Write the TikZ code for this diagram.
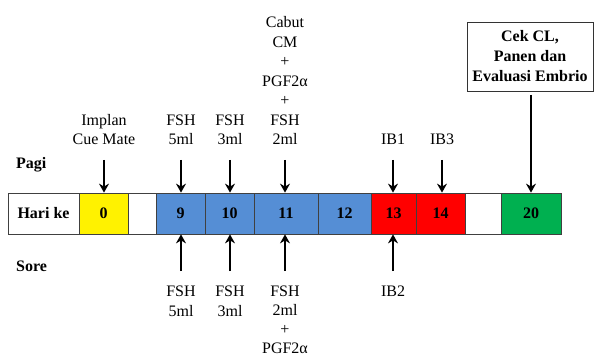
\documentclass[tikz,border=0pt]{standalone}
\usepackage{fontspec}
\setmainfont{Liberation Serif}
\usetikzlibrary{arrows.meta}
\definecolor{cellblue}{RGB}{85,142,213}
\definecolor{cellgreen}{RGB}{0,176,80}
\begin{document}
\begin{tikzpicture}[x=1pt,y=-1pt,
  every node/.style={font=\fontsize{16}{19.5}\selectfont},
  cell/.style={draw=black!75,line width=0.75pt,minimum height=41pt,inner sep=0pt,
    font=\fontsize{16}{19.5}\selectfont\bfseries},
  rowlabel/.style={anchor=west,inner sep=0pt,font=\fontsize{16}{19.5}\selectfont\bfseries},
  note/.style={align=center,inner sep=0pt},
  topnote/.style={note,anchor=south,text depth=0pt},
  botnote/.style={note,anchor=north},
  arr/.style={line width=2pt,-{Stealth[length=9pt,width=10pt,inset=3pt]}}]
\useasboundingbox (0,0) rectangle (594,358);

% timeline cells
\node[cell,minimum width=71pt] (hari) at (43.5,213.5) {Hari ke};
\node[cell,minimum width=49pt,fill=yellow] (d0) at (103.5,213.5) {0};
\node[cell,minimum width=28pt] (gap1) at (142,213.5) {};
\node[cell,minimum width=49pt,fill=cellblue] (d9) at (180.5,213.5) {9};
\node[cell,minimum width=49pt,fill=cellblue] (d10) at (229.5,213.5) {10};
\node[cell,minimum width=64pt,fill=cellblue] (d11) at (286,213.5) {11};
\node[cell,minimum width=53pt,fill=cellblue] (d12) at (344.5,213.5) {12};
\node[cell,minimum width=45pt,fill=red] (d13) at (393.5,213.5) {13};
\node[cell,minimum width=49pt,fill=red] (d14) at (440.5,213.5) {14};
\node[cell,minimum width=36pt] (gap2) at (483,213.5) {};
\node[cell,minimum width=60pt,fill=cellgreen] (d20) at (531,213.5) {20};

% row labels
\node[rowlabel] (pagi) at (16,165) {Pagi};
\node[rowlabel] (sore) at (16,266) {Sore};

% morning treatments
\node[topnote] (t0) at (104,145) {Implan\\Cue Mate};
\node[topnote] (t9) at (181,145) {FSH\\5ml};
\node[topnote] (t10) at (230,145) {FSH\\3ml};
\node[topnote] (t11) at (285,145) {Cabut\\CM\\+\\PGF2α\\+\\FSH\\2ml};
\node[topnote] (t13) at (393,145) {IB1};
\node[topnote] (t14) at (442,145) {IB3};
\node[draw=black!80,line width=0.75pt,minimum width=126pt,minimum height=69pt,align=center,
  font=\fontsize{16}{20}\selectfont\bfseries] (t20) at (530,56.5) {Cek CL,\\Panen dan\\Evaluasi Embrio};

% evening treatments
\node[botnote] (b9) at (181,286) {FSH\\5ml};
\node[botnote] (b10) at (230,286) {FSH\\3ml};
\node[botnote,font=\fontsize{16}{19}\selectfont] (b11) at (285,286) {FSH\\2ml\\+\\PGF2α};
\node[botnote] (b13) at (393,286) {IB2};

% arrows into the timeline
\coordinate (a0) at (104,160);
\coordinate (a9) at (181,160);
\coordinate (a10) at (230,160);
\coordinate (a11) at (285,160);
\coordinate (a13) at (393,160);
\coordinate (a14) at (442,160);
\coordinate (a20) at (531,95);
\draw[arr] (a0) -- (a0 |- d0.north);
\draw[arr] (a9) -- (a9 |- d9.north);
\draw[arr] (a10) -- (a10 |- d10.north);
\draw[arr] (a11) -- (a11 |- d11.north);
\draw[arr] (a13) -- (a13 |- d13.north);
\draw[arr] (a14) -- (a14 |- d14.north);
\draw[arr] (a20) -- (a20 |- d20.north);

\coordinate (u9) at (181,271);
\coordinate (u10) at (230,271);
\coordinate (u11) at (285,271);
\coordinate (u13) at (393,271);
\draw[arr] (u9) -- (u9 |- d9.south);
\draw[arr] (u10) -- (u10 |- d10.south);
\draw[arr] (u11) -- (u11 |- d11.south);
\draw[arr] (u13) -- (u13 |- d13.south);
\end{tikzpicture}
\end{document}
